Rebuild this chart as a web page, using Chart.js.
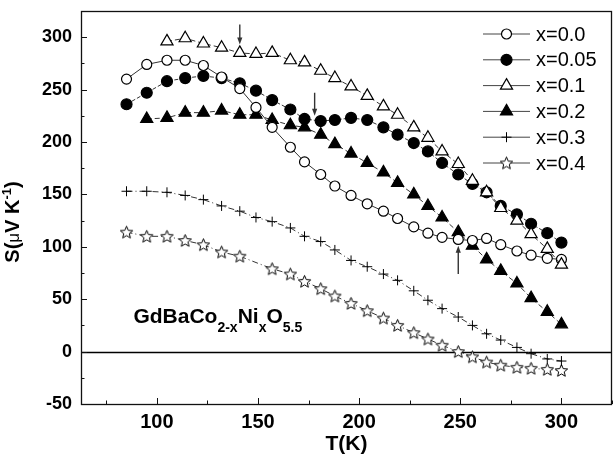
<!DOCTYPE html>
<html>
<head>
<meta charset="utf-8">
<script src="https://cdn.jsdelivr.net/npm/chart.js@4.4.1/dist/chart.umd.min.js"></script>
<style>
  html, body { margin: 0; padding: 0; background: #fff; }
  #wrap { width: 613px; height: 455px; }
</style>
</head>
<body>
<div id="wrap"><canvas id="seebeck"></canvas></div>
<script>
// Temperaturas (K) y coeficiente Seebeck S (uV/K) de cada muestra
const temps = [85, 95, 105, 114, 123, 132, 141, 149, 157, 166, 173, 181, 188, 196,
               204, 212, 219, 227, 234, 241, 249, 256, 263, 270, 278, 285, 293, 300];

const sX000 = [260, 274, 278, 278, 273, 262, 251, 233, 214, 195, 181, 169, 158, 149,
               141, 134, 127, 119, 113, 109, 107, 106, 108, 102, 96, 92, 89, 88];
const sX005 = [236, 247, 258, 261, 263, 261, 256, 249, 240, 231, 222, 220, 221, 223,
               221, 214, 207, 199, 191, 180, 169, 160, 152, 139, 131, 122, 113, 104];
const sX010 = [null, null, 296, 299, 294, 290, 285, 284, 285, 278, 276, 268, 261, 253,
               244, 234, 226, 214, 204, 191, 179, 163, 152, 137, 125, 112, 98, 83];
const sX020 = [null, 222, 223, 228, 228, 230, 226, 226, 221, 216, 214, 207, 198, 189,
               180, 171, 161, 150, 139, 128, 114, 101, 88, 77, 65, 51, 38, 26];
const sX030 = [153, 153, 152, 149, 145, 139, 134, 128, 124, 118, 110, 105, 97, 87,
               81, 74, 68, 58, 49, 41, 33, 25, 17, 11, 4, -2, -7, -9];
const sX040 = [114, 110, 110, 106, 102, 95, 91, null, 79, 74, 67, 60, 53, 46,
               39, 32, 25, 18, 12, 6, 0, -5, -10, -13, -15, -16, -17, -18];

const seriesNames = ['x=0.0', 'x=0.05', 'x=0.1', 'x=0.2', 'x=0.3', 'x=0.4'];
const seriesValues = [sX000, sX005, sX010, sX020, sX030, sX040];

// marcas del eje (las de 50 en 50 llevan numero)
const xTicks = [75, 100, 125, 150, 175, 200, 225, 250, 275, 300, 325];
const yTicks = [-50, -25, 0, 25, 50, 75, 100, 125, 150, 175, 200, 225, 250, 275, 300, 325];
const xLabels = [100, 150, 200, 250, 300];
const yLabels = [-50, 0, 50, 100, 150, 200, 250, 300];

// flechas: temperatura, S inicial, S final
const arrowT = [141, 178, 249];
const arrowFrom = [312, 247, 74];
const arrowTo = [293, 225, 101];

const FONT = "'Liberation Sans', Arial, Helvetica, sans-serif";

function makeStar(r) {
    const c = document.createElement('canvas');
    const size = Math.ceil(r * 2 + 4);
    c.width = size;
    c.height = size;
    drawStar(c.getContext('2d'), size / 2, size / 2 + 0.5, r);
    return c;
}

function drawStar(g, cx, cy, r) {
    g.beginPath();
    for (let i = 0; i < 10; i++) {
        const rr = i % 2 === 0 ? r : r * 0.45;
        const a = -Math.PI / 2 + i * Math.PI / 5;
        const px = cx + rr * Math.cos(a);
        const py = cy + rr * Math.sin(a);
        if (i === 0) g.moveTo(px, py); else g.lineTo(px, py);
    }
    g.closePath();
    g.fillStyle = '#fff';
    g.fill();
    g.strokeStyle = '#000';
    g.lineWidth = 1;
    g.stroke();
}

const starImg = makeStar(6.5);

const markers = [
    { style: 'circle', radius: 5, fill: '#fff' },
    { style: 'circle', radius: 5.5, fill: '#000' },
    { style: 'triangle', radius: 7, fill: '#fff' },
    { style: 'triangle', radius: 7, fill: '#000' },
    { style: 'cross', radius: 5, fill: '#fff' },
    { style: starImg, radius: 6.5, fill: '#fff' }
];
const dashes = [[], [4, 2], [5, 3], [5, 3], [6, 3, 1, 3], [6, 3, 1, 3]];
const drawOrder = [2, 4, 1, 3, 5, 6];

const datasets = seriesNames.map((name, i) => ({
    label: name,
    data: temps.map((t, k) => ({ x: t, y: seriesValues[i][k] })),
    borderColor: '#333',
    borderWidth: 1,
    borderDash: dashes[i],
    pointStyle: markers[i].style,
    pointRadius: markers[i].radius,
    pointBackgroundColor: markers[i].fill,
    pointBorderColor: '#000',
    pointBorderWidth: markers[i].style === 'cross' ? 1 : 1.2,
    spanGaps: true,
    order: drawOrder[i]
}));

function drawMarker(ctx, i, x, y) {
    const m = markers[i];
    ctx.save();
    ctx.strokeStyle = '#000';
    ctx.fillStyle = m.fill;
    ctx.lineWidth = 1.2;
    ctx.beginPath();
    if (m.style === 'circle') {
        ctx.arc(x, y, m.radius, 0, Math.PI * 2);
        ctx.fill();
        ctx.stroke();
    } else if (m.style === 'triangle') {
        for (let k = 0; k < 3; k++) {
            const a = k * 2 * Math.PI / 3;
            ctx.lineTo(x + Math.sin(a) * m.radius, y - Math.cos(a) * m.radius);
        }
        ctx.closePath();
        ctx.fill();
        ctx.stroke();
    } else if (m.style === 'cross') {
        ctx.lineWidth = 1;
        ctx.moveTo(x - m.radius, y);
        ctx.lineTo(x + m.radius, y);
        ctx.moveTo(x, y - m.radius);
        ctx.lineTo(x, y + m.radius);
        ctx.stroke();
    } else {
        ctx.drawImage(m.style, x - m.style.width / 2, y - m.style.height / 2);
    }
    ctx.restore();
}

// escribe trozos de texto con subindices / superindices
function drawParts(ctx, parts, x, y) {
    parts.forEach(p => {
        ctx.font = p.font;
        ctx.fillText(p.text, x, y + (p.dy || 0));
        x += ctx.measureText(p.text).width;
    });
}

function partsWidth(ctx, parts) {
    let w = 0;
    parts.forEach(p => { ctx.font = p.font; w += ctx.measureText(p.text).width; });
    return w;
}

const decorPlugin = {
    id: 'decor',
    beforeDatasetsDraw(chart) {
        const { ctx, chartArea: a, scales: { y } } = chart;
        const y0 = Math.round(y.getPixelForValue(0)) + 0.5;
        ctx.save();
        ctx.strokeStyle = '#000';
        ctx.lineWidth = 1.6;
        ctx.beginPath();
        ctx.moveTo(a.left, y0);
        ctx.lineTo(a.right, y0);
        ctx.stroke();
        ctx.restore();
    },
    afterDraw(chart) {
        const { ctx, chartArea: a, scales: { x, y } } = chart;
        ctx.save();

        // marco
        ctx.strokeStyle = '#111';
        ctx.lineWidth = 1.3;
        ctx.strokeRect(a.left + 0.5, a.top + 0.5, a.right - a.left - 1, a.bottom - a.top);

        // marcas hacia dentro
        ctx.lineWidth = 1;
        ctx.beginPath();
        xTicks.forEach(v => {
            const px = Math.round(x.getPixelForValue(v)) + 0.5;
            const len = v % 50 === 0 ? 6 : 3.5;
            ctx.moveTo(px, a.bottom);
            ctx.lineTo(px, a.bottom - len);
        });
        yTicks.forEach(v => {
            const py = Math.round(y.getPixelForValue(v)) + 0.5;
            const len = v % 50 === 0 ? 6 : 3.5;
            ctx.moveTo(a.left, py);
            ctx.lineTo(a.left + len, py);
        });
        ctx.stroke();

        // flechas
        ctx.strokeStyle = '#333';
        ctx.fillStyle = '#333';
        ctx.lineWidth = 1.4;
        arrowT.forEach((t, i) => {
            const px = x.getPixelForValue(t);
            const p1 = y.getPixelForValue(arrowFrom[i]);
            const p2 = y.getPixelForValue(arrowTo[i]);
            const dir = p2 > p1 ? 1 : -1;
            ctx.beginPath();
            ctx.moveTo(px, p1);
            ctx.lineTo(px, p2 - dir * 5);
            ctx.stroke();
            ctx.beginPath();
            ctx.moveTo(px, p2);
            ctx.lineTo(px - 2.6, p2 - dir * 7);
            ctx.lineTo(px + 2.6, p2 - dir * 7);
            ctx.closePath();
            ctx.fill();
        });

        // leyenda
        ctx.textBaseline = 'middle';
        ctx.textAlign = 'left';
        seriesNames.forEach((name, i) => {
            const ry = 34 + i * 25.8;
            ctx.strokeStyle = '#444';
            ctx.lineWidth = 1;
            ctx.beginPath();
            ctx.moveTo(483, ry);
            ctx.lineTo(530, ry);
            ctx.stroke();
            drawMarker(ctx, i, 506.5, ry);
            ctx.fillStyle = '#000';
            ctx.font = '20px ' + FONT;
            ctx.fillText(name, 536, ry + 1);
        });

        // formula
        ctx.fillStyle = '#000';
        ctx.textBaseline = 'alphabetic';
        const big = 'bold 21px ' + FONT;
        const sub = 'bold 14px ' + FONT;
        drawParts(ctx, [
            { text: 'GdBaCo', font: big },
            { text: '2-x', font: sub, dy: 9 },
            { text: 'Ni', font: big },
            { text: 'x', font: sub, dy: 9 },
            { text: 'O', font: big },
            { text: '5.5', font: sub, dy: 9 }
        ], x.getPixelForValue(88.4), y.getPixelForValue(27.7));

        // titulos de los ejes
        ctx.font = 'bold 21px ' + FONT;
        ctx.textAlign = 'center';
        ctx.fillText('T(K)', (a.left + a.right) / 2, 450);

        const yParts = [
            { text: 'S(', font: 'bold 20px ' + FONT },
            { text: 'μ', font: '17px ' + FONT },
            { text: 'V K', font: 'bold 20px ' + FONT },
            { text: '-1', font: 'bold 13px ' + FONT, dy: -8 },
            { text: ')', font: 'bold 20px ' + FONT }
        ];
        ctx.textAlign = 'left';
        ctx.translate(19, 222);
        ctx.rotate(-Math.PI / 2);
        drawParts(ctx, yParts, -partsWidth(ctx, yParts) / 2, 0);

        ctx.restore();
    }
};

new Chart(document.getElementById('seebeck'), {
    type: 'line',
    data: { datasets: datasets },
    options: {
        responsive: true,
        maintainAspectRatio: false,
        animation: false,
        layout: { autoPadding: false, padding: { top: 11, right: 1, left: 0, bottom: 0 } },
        plugins: {
            legend: { display: false },
            tooltip: { enabled: false }
        },
        scales: {
            x: {
                type: 'linear',
                min: 62.5,
                max: 325,
                afterBuildTicks: s => { s.ticks = xLabels.map(v => ({ value: v })); },
                afterFit: s => {
                    s.height = 51;
                    s.paddingLeft = 0;
                    s.paddingRight = 0;
                },
                grid: { display: false, drawTicks: false },
                border: { display: false },
                ticks: {
                    autoSkip: false,
                    maxRotation: 0,
                    padding: 6,
                    color: '#000',
                    font: { family: FONT, size: 20, weight: 'bold' }
                }
            },
            y: {
                min: -50,
                max: 325,
                afterBuildTicks: s => { s.ticks = yLabels.map(v => ({ value: v })); },
                afterFit: s => {
                    s.width = 81;
                    s.paddingTop = 0;
                    s.paddingBottom = 0;
                },
                grid: { display: false, drawTicks: false },
                border: { display: false },
                ticks: {
                    autoSkip: false,
                    padding: 9,
                    color: '#000',
                    font: { family: FONT, size: 18, weight: 'bold' }
                }
            }
        }
    },
    plugins: [decorPlugin]
});
</script>
</body>
</html>
